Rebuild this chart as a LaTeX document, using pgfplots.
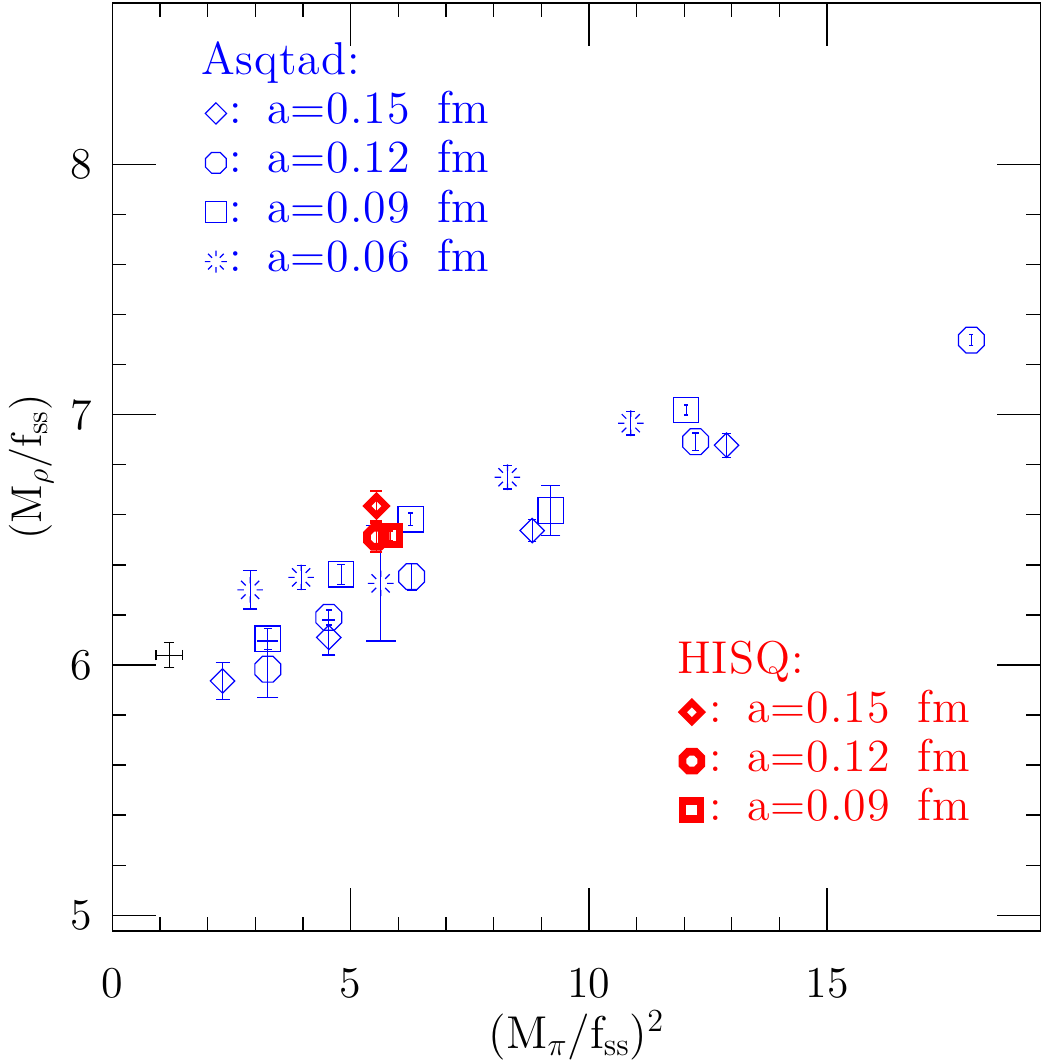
\RequirePackage{fix-cm}
\documentclass[border=0pt]{standalone}
\usepackage{fontspec}
\setmainfont{lmroman12-regular.otf}
\newfontfamily\legfam{lmroman12-regular.otf}[LetterSpace=2]
\usepackage{pgfplots}
\pgfplotsset{compat=1.18}

\pgfdeclareplotmark{mydiamond}{%
  \pgfpathmoveto{\pgfqpoint{0pt}{\pgfplotmarksize}}%
  \pgfpathlineto{\pgfqpoint{\pgfplotmarksize}{0pt}}%
  \pgfpathlineto{\pgfqpoint{0pt}{-\pgfplotmarksize}}%
  \pgfpathlineto{\pgfqpoint{-\pgfplotmarksize}{0pt}}%
  \pgfpathclose
  \pgfusepathqstroke}
\pgfdeclareplotmark{myoct}{%
  \pgfpathmoveto{\pgfqpoint{0.4142\pgfplotmarksize}{\pgfplotmarksize}}%
  \pgfpathlineto{\pgfqpoint{\pgfplotmarksize}{0.4142\pgfplotmarksize}}%
  \pgfpathlineto{\pgfqpoint{\pgfplotmarksize}{-0.4142\pgfplotmarksize}}%
  \pgfpathlineto{\pgfqpoint{0.4142\pgfplotmarksize}{-\pgfplotmarksize}}%
  \pgfpathlineto{\pgfqpoint{-0.4142\pgfplotmarksize}{-\pgfplotmarksize}}%
  \pgfpathlineto{\pgfqpoint{-\pgfplotmarksize}{-0.4142\pgfplotmarksize}}%
  \pgfpathlineto{\pgfqpoint{-\pgfplotmarksize}{0.4142\pgfplotmarksize}}%
  \pgfpathlineto{\pgfqpoint{-0.4142\pgfplotmarksize}{\pgfplotmarksize}}%
  \pgfpathclose
  \pgfusepathqstroke}
\pgfdeclareplotmark{mysquare}{%
  \pgfpathrectangle{\pgfqpoint{-\pgfplotmarksize}{-\pgfplotmarksize}}{\pgfqpoint{2\pgfplotmarksize}{2\pgfplotmarksize}}%
  \pgfusepathqstroke}
\pgfdeclareplotmark{burst}{%
  \foreach \ang in {0,45,...,315}{%
    \pgfpathmoveto{\pgfqpointpolar{\ang}{0.5\pgfplotmarksize}}%
    \pgfpathlineto{\pgfqpointpolar{\ang}{\pgfplotmarksize}}%
  }%
  \pgfusepathqstroke}

\newcommand{\legfont}{\legfam\fontsize{23}{26}\selectfont}
\newcommand{\labfont}{\fontsize{22}{26}\selectfont}

\pgfplotsset{
  base/.style={
    width=464pt, height=464pt, scale only axis,
    xmin=0, xmax=19.48, ymin=4.937, ymax=8.645,
  },
  legbase/.style={
    legend style={draw=none, fill=none, inner sep=0pt, outer sep=0pt,
      anchor=north west, font=\legfont,
      nodes={inner sep=0pt, text height=15pt, text depth=5pt}},
    legend cell align=left,
    legend image code/.code={\draw[##1] plot coordinates {(0pt,0pt)};},
  },
}

% blue point: mark, marksize, x, y, ey, cap
\newcommand{\bpt}[6]{%
  \addplot[blue, only marks, mark=#1, mark size=#2, line width=0.6pt, forget plot,
    error bars/.cd, y dir=both, y explicit,
    error mark options={rotate=90, mark size=#6, line width=0.6pt}]
    coordinates {(#3,#4) +- (0,#5)};}
% red point
\newcommand{\rpt}[7]{%
  \addplot[red, only marks, mark=#1, mark size=#2, mark options={line width=#7}, line width=1pt, forget plot,
    error bars/.cd, y dir=both, y explicit,
    error mark options={rotate=90, mark size=#6, line width=1.2pt}]
    coordinates {(#3,#4) +- (0,#5)};}

\begin{document}
\begin{tikzpicture}
\begin{axis}[base, name=A, legbase,
  axis line style={line width=0.65pt},
  every tick/.style={black, line width=0.65pt},
  major tick length=21.5pt, minor tick length=7pt,
  xtick={0,5,10,15}, ytick={5,6,7,8},
  minor x tick num=4, minor y tick num=4,
  /pgf/number format/assume math mode=true,
  tick label style={font=\labfont, inner sep=0pt},
  xticklabel shift=18.5pt, yticklabel shift=9.8pt,
  xlabel={(M$_{\pi}$/f\textsubscript{ss})\textsuperscript{2}},
  ylabel={(M$_{\rho}$/f\textsubscript{ss})},
  every axis x label/.style={at={(axis description cs:0.5,-0.112)}, anchor=center, font=\fontsize{23}{26}\selectfont},
  every axis y label/.style={at={(axis description cs:-0.0875,0.5)}, anchor=center, rotate=90, font=\fontsize{21.5}{26}\selectfont},
  legend style={at={(axis description cs:0.0996,0.9558)}, text=blue, row sep=4.7pt, column sep=1.3pt},
]
% black reference point
\addplot[black, only marks, mark=*, mark size=0pt, line width=0.6pt, forget plot,
  error bars/.cd, x dir=both, x explicit, y dir=both, y explicit,
  error mark options={rotate=90, mark size=2.6pt, line width=0.6pt}]
  coordinates {(1.19,6.04) +- (0.275,0.05)};
% a=0.15 fm diamonds
\bpt{mydiamond}{6.1pt}{2.31}{5.936}{0.074}{3.5pt}
\bpt{mydiamond}{6.1pt}{4.54}{6.11}{0.07}{3.3pt}
\bpt{mydiamond}{6.1pt}{8.81}{6.537}{0.045}{2.1pt}
\bpt{mydiamond}{6.1pt}{12.89}{6.878}{0.048}{2.3pt}
% a=0.12 fm octagons
\bpt{myoct}{6.45pt}{3.26}{5.983}{0.113}{5.3pt}
\bpt{myoct}{6.45pt}{4.54}{6.19}{0.03}{1.4pt}
\bpt{myoct}{6.45pt}{6.28}{6.353}{0.054}{2.5pt}
\bpt{myoct}{6.45pt}{12.24}{6.892}{0.035}{1.6pt}
\bpt{myoct}{6.45pt}{18.03}{7.298}{0.021}{1pt}
% a=0.09 fm squares
\bpt{mysquare}{6.35pt}{3.26}{6.105}{0.042}{2pt}
\bpt{mysquare}{6.35pt}{4.80}{6.362}{0.04}{1.9pt}
\bpt{mysquare}{6.35pt}{6.26}{6.582}{0.025}{1.2pt}
\bpt{mysquare}{6.35pt}{9.20}{6.617}{0.10}{4.8pt}
\bpt{mysquare}{6.35pt}{12.04}{7.019}{0.02}{1pt}
% a=0.06 fm bursts
\bpt{burst}{6.4pt}{2.89}{6.30}{0.076}{3.6pt}
\bpt{burst}{6.4pt}{3.96}{6.35}{0.047}{2.2pt}
\bpt{burst}{6.4pt}{5.63}{6.326}{0.23}{7.5pt}
\bpt{burst}{6.4pt}{8.29}{6.75}{0.047}{2.2pt}
\bpt{burst}{6.4pt}{10.88}{6.966}{0.047}{2.2pt}
% legend
\addlegendimage{empty legend}\addlegendentry{\hspace*{-14.2pt}Asqtad:}
\addlegendimage{blue, mark=mydiamond, mark size=5.3pt, line width=0.6pt}\addlegendentry{:\hspace{0.55em}a=0.15\hspace{0.6em}fm}
\addlegendimage{blue, mark=myoct, mark size=5.2pt, line width=0.6pt}\addlegendentry{:\hspace{0.55em}a=0.12\hspace{0.6em}fm}
\addlegendimage{blue, mark=mysquare, mark size=5.2pt, line width=0.6pt}\addlegendentry{:\hspace{0.55em}a=0.09\hspace{0.6em}fm}
\addlegendimage{blue, mark=burst, mark size=5.5pt, line width=0.6pt}\addlegendentry{:\hspace{0.55em}a=0.06\hspace{0.6em}fm}
\end{axis}

\begin{axis}[base, hide axis, legbase,
  legend style={at={(axis description cs:0.614,0.31)}, text=red, row sep=4.45pt, column sep=4.1pt},
]
\rpt{mydiamond}{4.8pt}{5.54}{6.635}{0.061}{3pt}{3.2pt}
\rpt{myoct}{4.7pt}{5.54}{6.51}{0.058}{3pt}{3.8pt}
\rpt{mysquare}{4.5pt}{5.83}{6.516}{0.02}{1.5pt}{3.6pt}
\addlegendimage{empty legend}\addlegendentry{\hspace*{-16.2pt}HISQ:}
\addlegendimage{red, mark=mydiamond, mark size=4.8pt, mark options={line width=3.2pt}}\addlegendentry{:\hspace{0.55em}a=0.15\hspace{0.6em}fm}
\addlegendimage{red, mark=myoct, mark size=4.7pt, mark options={line width=3.8pt}}\addlegendentry{:\hspace{0.55em}a=0.12\hspace{0.6em}fm}
\addlegendimage{red, mark=mysquare, mark size=4.5pt, mark options={line width=3.6pt}}\addlegendentry{:\hspace{0.55em}a=0.09\hspace{0.6em}fm}
\end{axis}
\pgfresetboundingbox
\path[use as bounding box] ([shift={(-56.25pt,-66.5pt)}]A.south west) rectangle ([shift={(0.75pt,1.5pt)}]A.north east);
\end{tikzpicture}
\end{document}
